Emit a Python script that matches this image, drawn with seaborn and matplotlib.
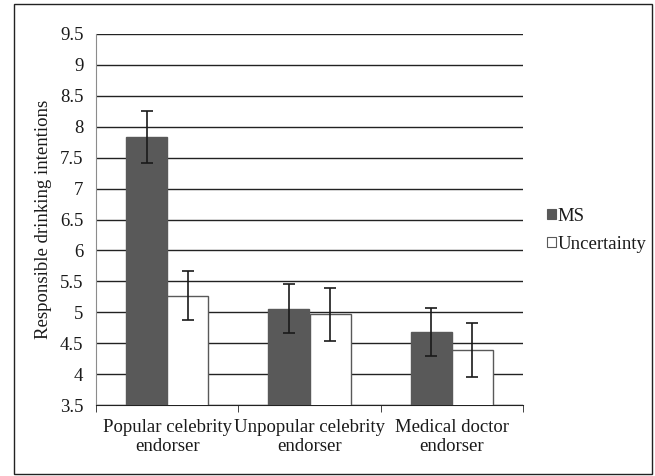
import matplotlib
matplotlib.use("Agg")
import matplotlib.pyplot as plt
import matplotlib.patches as mpatches
import seaborn as sns
import pandas as pd
import numpy as np

categories = ["Popular celebrity\nendorser", "Unpopular celebrity\nendorser", "Medical doctor\nendorser"]
conditions = ["MS", "Uncertainty"]
ms_means = [7.84, 5.06, 4.68]
unc_means = [5.27, 4.97, 4.39]
ms_err = [0.42, 0.39, 0.39]
unc_err = [0.39, 0.43, 0.43]
y_ticks = [3.5, 4, 4.5, 5, 5.5, 6, 6.5, 7, 7.5, 8, 8.5, 9, 9.5]

df = pd.DataFrame({
    "endorser": categories * 2,
    "condition": [conditions[0]] * 3 + [conditions[1]] * 3,
    "mean": ms_means + unc_means,
    "err": ms_err + unc_err,
})

sns.set_style("white")
plt.rcParams["font.family"] = ["Liberation Serif", "DejaVu Serif"]
FS = 13.5

fig = plt.figure(figsize=(6.55, 4.76), dpi=100)
ax = fig.add_axes([96 / 655, 1 - 405 / 476, (523 - 96) / 655, (405 - 34) / 476])

palette = {"MS": "#595959", "Uncertainty": "#ffffff"}
sns.barplot(data=df, x="endorser", y="mean", hue="condition", palette=palette,
            order=categories, hue_order=conditions, errorbar=None,
            width=0.58, gap=0, edgecolor="#595959", linewidth=1.0,
            legend=False, ax=ax, zorder=3)

# error bars centred on each bar
for container, cond in zip(ax.containers, conditions):
    sub = df[df["condition"] == cond].set_index("endorser").loc[categories]
    xs = [p.get_x() + p.get_width() / 2 for p in container.patches]
    ax.errorbar(xs, sub["mean"].values, yerr=sub["err"].values, fmt="none",
                ecolor="#1a1a1a", elinewidth=1.2, capsize=4, capthick=1.2, zorder=4)

ax.set_ylim(3.5, 9.5)
ax.set_yticks(y_ticks)
ax.set_yticklabels([f"{t:g}" for t in y_ticks])
ax.set_xlim(-0.5, 2.5)
ax.yaxis.grid(True, color="#222222", linewidth=1.0, zorder=0)
ax.set_axisbelow(True)
ax.set_xlabel("")
ax.set_ylabel("Responsible drinking intentions", fontsize=FS, color="#1a1a1a", labelpad=6)

for side in ["top", "right"]:
    ax.spines[side].set_visible(False)
ax.spines["left"].set_color("#8c8c8c")
ax.spines["bottom"].set_color("#222222")

ax.tick_params(axis="y", length=5, color="#8c8c8c", labelsize=FS, labelcolor="#1a1a1a", pad=4)
ax.tick_params(axis="x", length=0, labelsize=FS, labelcolor="#1a1a1a", pad=10)
# category boundary ticks
ax.set_xticks([-0.5, 0.5, 1.5, 2.5], minor=True)
ax.tick_params(axis="x", which="minor", length=5, color="#222222", bottom=True)

handles = [mpatches.Patch(facecolor=palette[c], edgecolor="#595959", linewidth=0.8, label=c)
           for c in conditions]
fig.legend(handles=handles, loc="upper left", bbox_to_anchor=(539 / 655, 1 - 200 / 476),
           frameon=False, fontsize=FS, handlelength=0.5, handleheight=0.5,
           handletextpad=0.1, labelspacing=0.6, borderaxespad=0,
           labelcolor="#1a1a1a")

# outer frame
fig.patches.append(mpatches.Rectangle((14 / 655, 2 / 476), 638 / 655, 470 / 476,
                                      transform=fig.transFigure, fill=False,
                                      edgecolor="#222222", linewidth=1.0))

fig.savefig("out.png", dpi=100)
